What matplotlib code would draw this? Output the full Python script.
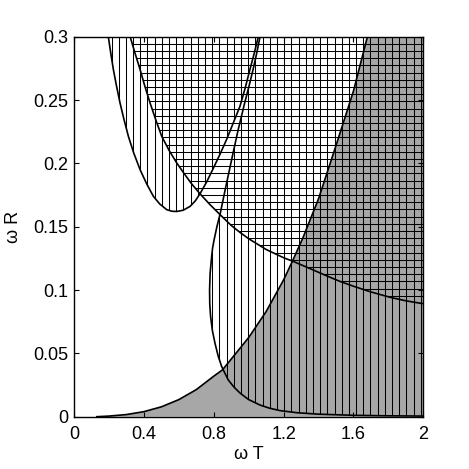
import numpy as np
import matplotlib
matplotlib.use("Agg")
import matplotlib.pyplot as plt
from matplotlib.patches import Polygon

plt.rcParams['font.family'] = ['Liberation Sans', 'DejaVu Sans']

# boundary of the gray (filled) region
G_x = [0.13, 0.20, 0.30, 0.40, 0.50, 0.60, 0.70, 0.80, 0.85, 0.90, 1.00, 1.10, 1.20,
       1.25, 1.31, 1.40, 1.50, 1.60, 1.68]
G_y = [0.000, 0.0005, 0.0017, 0.004, 0.0078, 0.0135, 0.0214, 0.032, 0.037, 0.0455,
       0.0625, 0.083, 0.108, 0.1226, 0.141, 0.172, 0.214, 0.257, 0.300]

# decreasing curve (horizontal hatching above it)
D_x = [0.321, 0.35, 0.378, 0.405, 0.435, 0.47, 0.502, 0.545, 0.588, 0.63, 0.675, 0.721,
       0.78, 0.836, 0.90, 0.95, 1.00, 1.10, 1.20, 1.255, 1.35, 1.45, 1.523, 1.60, 1.70,
       1.809, 1.90, 2.00]
D_y = [0.300, 0.2865, 0.274, 0.261, 0.2477, 0.2335, 0.2213, 0.210, 0.2003, 0.192, 0.1835,
       0.176, 0.1672, 0.1595, 0.151, 0.1455, 0.1405, 0.132, 0.1255, 0.1226, 0.117, 0.111,
       0.1068, 0.1030, 0.0985, 0.0943, 0.0915, 0.0892]

# U-shaped curve (vertical hatching inside)
U_x = [0.196, 0.21, 0.225, 0.243, 0.263, 0.286, 0.311, 0.342, 0.378, 0.415, 0.454, 0.49,
       0.531, 0.56, 0.588, 0.625, 0.664, 0.695, 0.721, 0.76, 0.797, 0.835, 0.874, 0.912,
       0.950, 0.98, 1.007, 1.032, 1.055]
U_y = [0.300, 0.287, 0.274, 0.261, 0.2477, 0.2345, 0.2213, 0.208, 0.195, 0.184, 0.174,
       0.168, 0.1634, 0.1622, 0.162, 0.163, 0.166, 0.1705, 0.176, 0.1855, 0.196, 0.207,
       0.219, 0.232, 0.245, 0.2595, 0.274, 0.287, 0.300]

# S-shaped curve (vertical hatching to its right)
S_x = [1.065, 1.046, 1.025, 1.002, 0.977, 0.940, 0.915, 0.890, 0.8635, 0.838, 0.818,
       0.802, 0.793, 0.788, 0.779, 0.776, 0.777, 0.782, 0.792, 0.807, 0.825, 0.845, 0.865,
       0.883, 0.915, 0.95, 1.00, 1.065, 1.12, 1.18, 1.28, 1.40, 1.60, 1.80, 2.00]
S_y = [0.300, 0.287, 0.274, 0.261, 0.2477, 0.2266, 0.211, 0.195, 0.178, 0.161, 0.150,
       0.1397, 0.133, 0.1266, 0.113, 0.100, 0.089, 0.079, 0.068, 0.058, 0.048, 0.0397,
       0.034, 0.029, 0.0235, 0.0187, 0.0135, 0.0092, 0.0067, 0.0048, 0.0031, 0.002,
       0.0011, 0.0007, 0.0005]

x_ticks = [0, 0.4, 0.8, 1.2, 1.6, 2]
x_labels = ["0", "0.4", "0.8", "1.2", "1.6", "2"]
y_ticks = [0, 0.05, 0.1, 0.15, 0.2, 0.25, 0.3]
y_labels = ["0", "0.05", "0.1", "0.15", "0.2", "0.25", "0.3"]

fig = plt.figure(figsize=(4.69, 4.69), dpi=100)
ax = fig.add_axes([0.158, 0.1115, 0.7445, 0.8103])
ax.set_xlim(0, 2)
ax.set_ylim(0, 0.3)

# gray region
gx = list(G_x) + [2.0, 2.0]
gy = list(G_y) + [0.3, 0.0]
ax.fill(gx, gy, color='#a7a7a7', lw=0, zorder=1)

# clip shapes for the hatched regions
u_poly = Polygon(np.column_stack([U_x, U_y]), closed=True, transform=ax.transData)
s_poly = Polygon(np.column_stack([S_x + [2.0], S_y + [0.3]]), closed=True, transform=ax.transData)
d_poly = Polygon(np.column_stack([D_x + [2.0], D_y + [0.3]]), closed=True, transform=ax.transData)

dx = 0.0412
dy = 0.00568
vx = np.arange(1.986, 0, -dx)
hy = np.arange(0.3 - dy, 0, -dy)

for poly in (u_poly, s_poly):
    lc = ax.vlines(vx, 0, 0.3, colors='k', lw=0.75, zorder=2)
    lc.set_clip_path(poly)
lc = ax.hlines(hy, 0, 2, colors='k', lw=0.75, zorder=2)
lc.set_clip_path(d_poly)

for cx, cy in ((G_x, G_y), (D_x, D_y), (U_x, U_y), (S_x, S_y)):
    ax.plot(cx, cy, color='k', lw=1.2, zorder=3)

ax.set_xticks(x_ticks)
ax.set_xticklabels(x_labels)
ax.set_yticks(y_ticks)
ax.set_yticklabels(y_labels)
ax.tick_params(direction='in', length=3.6, width=0.8, labelsize=13,
               top=True, right=True)
ax.tick_params(axis='x', pad=7)
ax.tick_params(axis='y', pad=4.3)
for sp in ax.spines.values():
    sp.set_linewidth(1.0)
    sp.set_zorder(4)

ax.set_xlabel("ω T", fontsize=13, labelpad=2)
ax.set_ylabel("ω R", fontsize=13, labelpad=8)

fig.savefig("out.png", dpi=100)
